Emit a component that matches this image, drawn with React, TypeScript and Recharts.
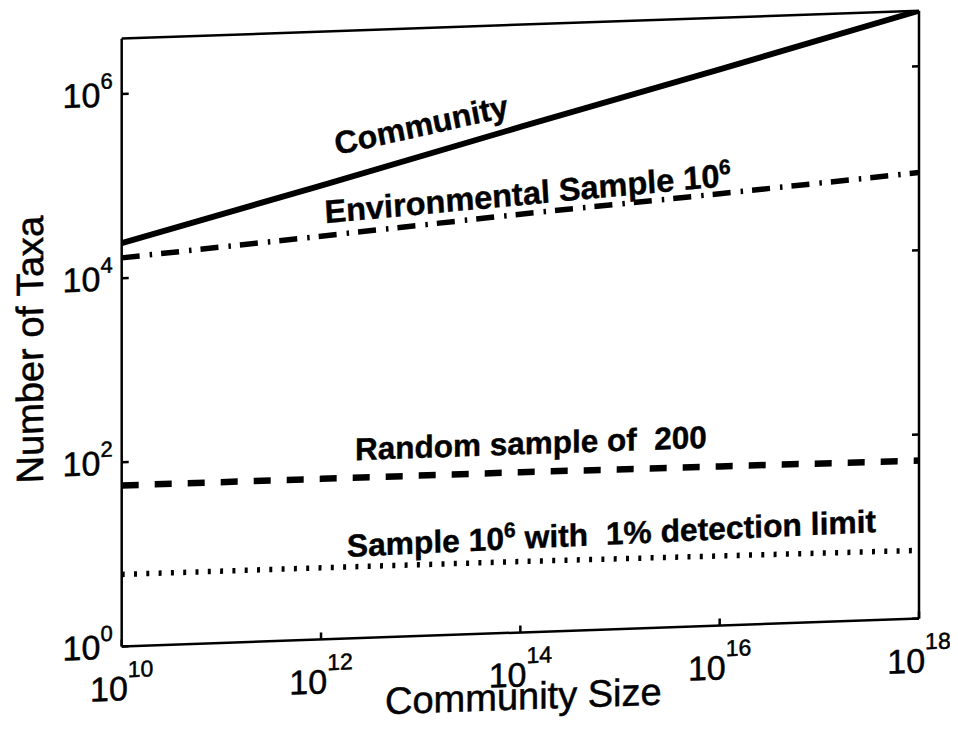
import React from 'react';
import { LineChart, Line, XAxis, YAxis, ReferenceDot } from 'recharts';

// community size (x) and number of taxa for each curve
const communitySize = [1e10, 1e12, 1e14, 1e16, 1e18];
const community = [2.4e4, 8.5e4, 3.1e5, 1.1e6, 4.0e6];
const environmental = [1.66e4, 2.4e4, 3.5e4, 4.9e4, 7.0e4];
const randomSample = [56, 55.5, 55, 53.5, 52];
const detectionLimit = [6.05, 6.0, 5.9, 5.7, 5.5];

const xTicks = [1e10, 1e12, 1e14, 1e16, 1e18];
const yTicks = [1, 1e2, 1e4, 1e6];
const yMax = 4e6;

// in-plot curve names, anchored at the start of their baseline
const curveLabels = [
  { x: 1.44e12, y: 1.8e5, angle: -10.7, size: 32, text: 'Community', sup: '', after: '' },
  { x: 1.1e12, y: 3.3e4, angle: -3.3, size: 32.5, text: 'Environmental Sample 10', sup: '6', after: '' },
  { x: 2.19e12, y: 86, angle: 0, size: 31.5, text: 'Random sample of  200', sup: '', after: '' },
  { x: 1.82e12, y: 7.7, angle: -0.7, size: 31.8, text: 'Sample 10', sup: '6', after: ' with  1% detection limit' },
];

const rows = communitySize.map((size, i) => ({
  size,
  community: community[i],
  environmental: environmental[i],
  randomSample: randomSample[i],
  detectionLimit: detectionLimit[i],
}));

const W = 950;
const H = 727;
const PLOT_LEFT = 113.7;
const PLOT_TOP = 30.6;
const PLOT_W = 797.3;
const PLOT_H = 607.8;
const PLOT_BOTTOM = PLOT_TOP + PLOT_H;

const FONT = '"Liberation Sans", Arial, Helvetica, sans-serif';

const exponent = (v: number) => String(Math.round(Math.log10(v)));

const LeftTick = (props: any) => {
  const { y, payload } = props;
  return (
    <text
      x={PLOT_LEFT - 9}
      y={y + 12}
      textAnchor="end"
      fontSize={34}
      fontFamily={FONT}
      fill="#000"
      stroke="#000"
      strokeWidth={0.5}
    >
      10<tspan dy={-18} fontSize={22}>{exponent(payload.value)}</tspan>
    </text>
  );
};

const BottomTick = (props: any) => {
  const { x, payload } = props;
  return (
    <text
      x={x}
      y={PLOT_BOTTOM + 54}
      textAnchor="middle"
      fontSize={34}
      fontFamily={FONT}
      fill="#000"
      stroke="#000"
      strokeWidth={0.5}
    >
      10<tspan dy={-23} fontSize={23}>{exponent(payload.value)}</tspan>
    </text>
  );
};

const NoTick = () => <g />;

const CurveLabel = ({ viewBox, item }: any) => {
  const { x, y } = viewBox;
  return (
    <text
      x={x}
      y={y}
      transform={`rotate(${item.angle} ${x} ${y})`}
      fontSize={item.size}
      fontWeight="bold"
      fontFamily={FONT}
      fill="#000"
      stroke="#000"
      strokeWidth={0.4}
      style={{ whiteSpace: 'pre' }}
    >
      {item.text}
      {item.sup ? <tspan dy={-12} fontSize={21}>{item.sup}</tspan> : null}
      {item.after ? <tspan dy={12}>{item.after}</tspan> : null}
    </text>
  );
};

const axisLine = { stroke: '#000', strokeWidth: 2.5 };
const tickLine = { stroke: '#000', strokeWidth: 2.5 };

export default function App() {
  return (
    <div style={{ width: W, height: H, overflow: 'hidden' }}>
      <div style={{ transform: 'skewY(-2deg)', transformOrigin: `${PLOT_LEFT}px 0` }}>
        <LineChart width={W} height={H} data={rows} margin={{ top: 0, right: 0, bottom: 0, left: 0 }}>
          <XAxis
            dataKey="size"
            type="number"
            scale="log"
            domain={[1e10, 1e18]}
            ticks={xTicks}
            allowDataOverflow
            height={H - PLOT_BOTTOM}
            axisLine={axisLine}
            tickLine={tickLine}
            tickSize={-7}
            tickMargin={0}
            tick={<BottomTick />}
            interval={0}
            label={{
              content: () => (
                <text
                  x={PLOT_LEFT + PLOT_W / 2 + 3}
                  y={PLOT_BOTTOM + 77}
                  textAnchor="middle"
                  fontSize={38}
                  fontFamily={FONT}
                  fill="#000"
                  stroke="#000"
                  strokeWidth={0.5}
                >
                  Community Size
                </text>
              ),
            }}
          />
          <XAxis
            xAxisId="top"
            orientation="top"
            type="number"
            scale="log"
            domain={[1e10, 1e18]}
            ticks={xTicks}
            allowDataOverflow
            height={PLOT_TOP}
            axisLine={axisLine}
            tickLine={tickLine}
            tickSize={-7}
            tick={<NoTick />}
            interval={0}
          />
          <YAxis
            type="number"
            scale="log"
            domain={[1, yMax]}
            ticks={yTicks}
            allowDataOverflow
            width={PLOT_LEFT}
            axisLine={axisLine}
            tickLine={tickLine}
            tickSize={-7}
            tickMargin={0}
            tick={<LeftTick />}
            interval={0}
            label={{
              content: () => (
                <text
                  x={35}
                  y={PLOT_TOP + PLOT_H / 2 + 4}
                  transform={`rotate(-90 35 ${PLOT_TOP + PLOT_H / 2 + 4})`}
                  textAnchor="middle"
                  fontSize={38}
                  fontFamily={FONT}
                  fill="#000"
                  stroke="#000"
                  strokeWidth={0.5}
                >
                  Number of Taxa
                </text>
              ),
            }}
          />
          <YAxis
            yAxisId="right"
            orientation="right"
            type="number"
            scale="log"
            domain={[1, yMax]}
            ticks={yTicks}
            allowDataOverflow
            width={W - PLOT_LEFT - PLOT_W}
            axisLine={axisLine}
            tickLine={tickLine}
            tickSize={-7}
            tick={<NoTick />}
            interval={0}
          />
          <Line
            dataKey="community"
            stroke="#000"
            strokeWidth={6}
            dot={false}
            activeDot={false}
            isAnimationActive={false}
          />
          <Line
            dataKey="environmental"
            stroke="#000"
            strokeWidth={5.5}
            strokeDasharray="18 10 2.5 9"
            dot={false}
            activeDot={false}
            isAnimationActive={false}
          />
          <Line
            dataKey="randomSample"
            stroke="#000"
            strokeWidth={6.5}
            strokeDasharray="17 16"
            dot={false}
            activeDot={false}
            isAnimationActive={false}
          />
          <Line
            dataKey="detectionLimit"
            stroke="#000"
            strokeWidth={5.5}
            strokeDasharray="3 9.3"
            dot={false}
            activeDot={false}
            isAnimationActive={false}
          />
          {curveLabels.map((item) => (
            <ReferenceDot
              key={item.text + item.after}
              x={item.x}
              y={item.y}
              r={0}
              fill="none"
              stroke="none"
              label={{ content: (p: any) => <CurveLabel viewBox={p.viewBox} item={item} /> }}
            />
          ))}
        </LineChart>
      </div>
    </div>
  );
}
